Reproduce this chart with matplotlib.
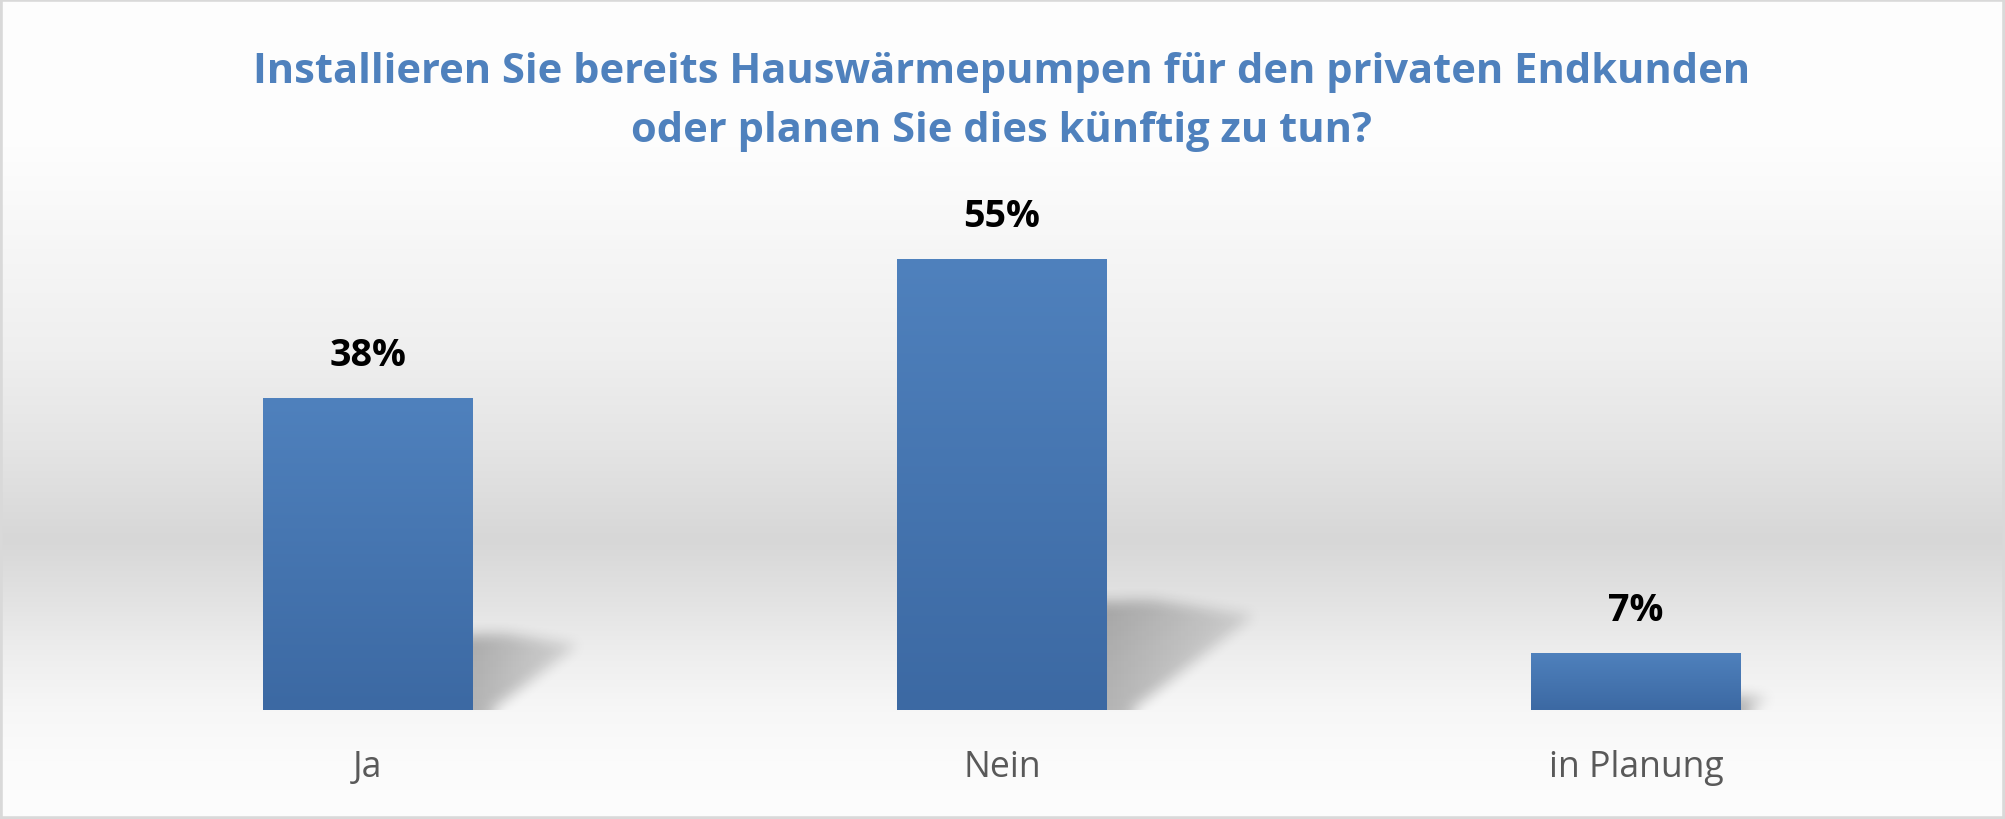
import numpy as np
import matplotlib
matplotlib.use("Agg")
import matplotlib.pyplot as plt
from matplotlib.path import Path
from matplotlib.patches import Rectangle

categories = ["Ja", "Nein", "in Planung"]
values = [38, 55, 7]
value_labels = ["38%", "55%", "7%"]
title_lines = ["Installieren Sie bereits Hauswärmepumpen für den privaten Endkunden",
               "oder planen Sie dies künftig zu tun?"]

W_PX, H_PX = 2005, 820
FONT = "Open Sans"
TITLE_COLOR = "#4f81bd"


def box_blur(a, r):
    for axis in (0, 1):
        pad = [(0, 0), (0, 0)]
        pad[axis] = (r + 1, r)
        p = np.pad(a, pad, mode="edge")
        c = np.cumsum(p, axis=axis)
        n = a.shape[axis]
        if axis == 0:
            a = (c[2 * r + 1:2 * r + 1 + n] - c[:n]) / (2 * r + 1)
        else:
            a = (c[:, 2 * r + 1:2 * r + 1 + n] - c[:, :n]) / (2 * r + 1)
    return a


def fit_size(fig, text, width_px, **kw):
    # font size that makes `text` about width_px wide
    r = fig.canvas.get_renderer()
    t = fig.text(0, 0, text, fontsize=20, **kw)
    w = t.get_window_extent(r).width
    t.remove()
    return 20 * width_px / w


fig = plt.figure(figsize=(W_PX / 100, H_PX / 100), dpi=100)

# chart area background: white -> grey band -> white
bg = fig.add_axes([0, 0, 1, 1], zorder=0)
stops_pos = [0.0, 0.18, 0.43, 0.55, 0.66, 0.73, 0.80, 0.87, 0.93, 1.0]
stops_val = [254, 253, 239, 228, 215, 226, 238, 247, 251, 253]
rows = np.interp(np.linspace(0, 1, H_PX), stops_pos, stops_val) / 255.0
grad = np.repeat(rows[:, None], 2, axis=1)
bg.imshow(np.dstack([grad, grad, grad]), aspect="auto", extent=(0, 1, 0, 1),
          origin="upper", interpolation="bilinear")
bg.set_xlim(0, 1)
bg.set_ylim(0, 1)
bg.axis("off")

ax = fig.add_axes([51 / W_PX, 109 / H_PX, 1902 / W_PX, 492 / H_PX], zorder=1)
ax.patch.set_alpha(0)
x = np.arange(len(categories))
bar_w = 0.331
ax.set_xlim(-0.5, len(categories) - 0.5)
ax.set_ylim(0, 60)

bars = ax.bar(x, values, width=bar_w, color="#4a7cb8", zorder=2, linewidth=0)

# soft cast shadows to the right of the bars
x0, y0, bw, bh = ax.bbox.bounds
gw, gh = int(round(bw)), int(round(bh))
xs = x0 + np.arange(gw) + 0.5
ys = y0 + bh - (np.arange(gh) + 0.5)
XX, YY = np.meshgrid(xs, ys)
pts = np.column_stack([XX.ravel(), YY.ravel()])
alpha = np.zeros((gh, gw))
for xi, v in zip(x, values):
    xr, yb = ax.transData.transform((xi + bar_w / 2, 0))
    hp = ax.transData.transform((xi, v))[1] - yb
    L = 0.30 * hp + 12
    poly = Path([(xr - 15, yb), (xr - 15, yb + 0.24 * hp),
                 (xr + 0.3 * L, yb + 0.245 * hp), (xr + L, yb + 0.21 * hp),
                 (xr + 0.15 * L, yb - 2), (xr - 15, yb)])
    inside = poly.contains_points(pts).reshape(gh, gw)
    t = np.clip((XX - xr) / L, 0, 1)
    alpha = np.maximum(alpha, inside * 0.27 * (1 - 0.6 * t))
alpha = box_blur(box_blur(alpha, 7), 7)
shadow = np.zeros((gh, gw, 4))
shadow[..., 3] = np.clip(alpha, 0, 1)
ax.imshow(shadow, extent=(*ax.get_xlim(), *ax.get_ylim()), origin="upper",
          aspect="auto", zorder=1.5, interpolation="bilinear")

# vertical gradient fill on each bar
top_c = np.array([79, 129, 189]) / 255.0
bot_c = np.array([60, 105, 163]) / 255.0
g = np.linspace(0, 1, 256)[:, None]
bar_grad = (top_c[None, :] * (1 - g) + bot_c[None, :] * g)[:, None, :]
for b in bars:
    im = ax.imshow(bar_grad, extent=(b.get_x(), b.get_x() + b.get_width(), 0, b.get_height()),
                   origin="upper", aspect="auto", zorder=2.1, interpolation="bilinear")
    im.set_clip_path(b)

ax.set_xlim(-0.5, len(categories) - 0.5)
ax.set_ylim(0, 60)
ax.axis("off")

val_fs = fit_size(fig, value_labels[0], 77, fontweight="bold", family=FONT)
cat_fs = fit_size(fig, categories[2], 175, family=FONT)
title_fs = fit_size(fig, title_lines[0], 1495, fontweight="bold", family=FONT)

for xi, v, lab in zip(x, values, value_labels):
    ax.annotate(lab, xy=(xi, v), xytext=(0, 33), textcoords="offset pixels",
                ha="center", va="baseline", fontsize=val_fs, fontweight="bold",
                color="black", family=FONT, zorder=3)

for xi, cat in zip(x, categories):
    ax.annotate(cat, xy=(xi, 0), xytext=(0, -66), textcoords="offset pixels",
                ha="center", va="baseline", fontsize=cat_fs, color="#595959",
                family=FONT, annotation_clip=False)

fig.text(0.4993, 1 - 83 / H_PX, title_lines[0], ha="center", va="baseline",
         fontsize=title_fs, fontweight="bold", color=TITLE_COLOR, family=FONT)
fig.text(0.4993, 1 - 142 / H_PX, title_lines[1], ha="center", va="baseline",
         fontsize=title_fs, fontweight="bold", color=TITLE_COLOR, family=FONT)

fig.patches.append(Rectangle((0, 0), 1, 1, transform=fig.transFigure, fill=False,
                             edgecolor="#d9d9d9", linewidth=4, zorder=10))

fig.savefig("out.png", dpi=100)
